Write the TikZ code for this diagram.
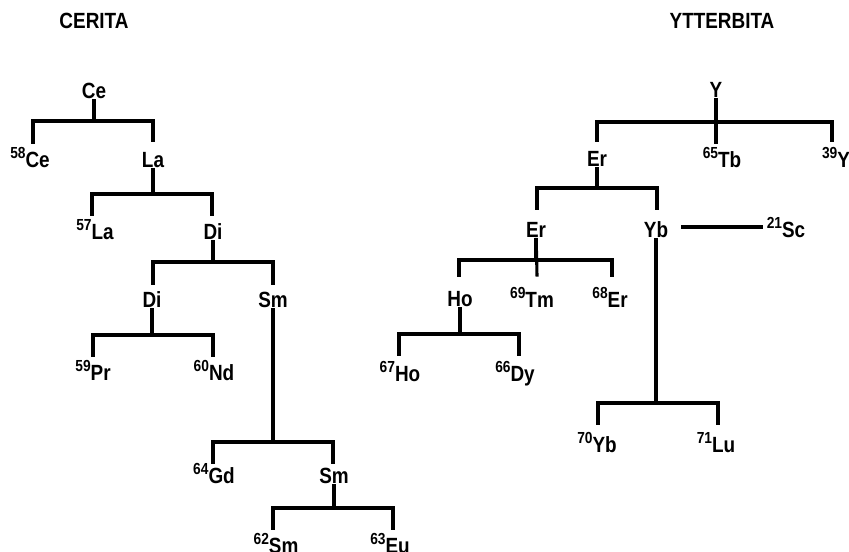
\documentclass[tikz,border=0pt]{standalone}
\usepackage{fontspec}
\setmainfont{Liberation Sans}[FakeStretch=0.86]
\usepackage{tikz}
\usetikzlibrary{positioning}
\tikzset{
  el/.style={font=\bfseries\fontsize{16.5}{19}\selectfont, inner sep=1pt, text height=11.8pt, text depth=0pt, align=center},
  ttl/.style={el, font=\bfseries\fontsize{16.5}{19}\selectfont},
  tl/.style={line width=2.3pt, draw=black, line cap=rect},
}
\newcommand{\iso}[2]{\raisebox{7pt}[0pt][0pt]{\fontsize{12}{12}\selectfont #1}#2}
% parent, bar y, left end, right end
\newcommand{\fork}[4]{\draw[tl] (#1) -- (#1 |- 0,#2);
  \draw[tl] (#3) |- (#4 |- 0,#2) -- (#4);}

\begin{document}
\begin{tikzpicture}[x=0.75pt,y=-0.75pt]
  \useasboundingbox[fill=white] (0,0) rectangle (849,552);
  \node[ttl] (cerita) at (94,21) {CERITA};
  \node[ttl] (ytterbita) at (722,21) {YTTERBITA};
  % cerita
  \node[el] (ce) at (94,91) {Ce};
  \node[el] (ce58) at (30,160) {\iso{58}{Ce}};
  \node[el] (la) at (153,160) {La};
  \node[el] (la57) at (95,232) {\iso{57}{La}};
  \node[el] (di1) at (213,232) {Di};
  \node[el] (di2) at (152,300) {Di};
  \node[el] (sm1) at (273,300) {Sm};
  \node[el] (pr59) at (93,373) {\iso{59}{Pr}};
  \node[el] (nd60) at (214,373) {\iso{60}{Nd}};
  \node[el] (gd64) at (214,476) {\iso{64}{Gd}};
  \node[el] (sm2) at (334,476) {Sm};
  \node[el] (sm62) at (276,546) {\iso{62}{Sm}};
  \node[el] (eu63) at (390,546) {\iso{63}{Eu}};
  \coordinate (ce58t) at (33,142);
  \coordinate (lat) at (153,140);
  \coordinate (la57t) at (92,214);
  \coordinate (di1t) at (212,214);
  \coordinate (di2t) at (153,283);
  \coordinate (sm1t) at (273,283);
  \coordinate (pr59t) at (93,355);
  \coordinate (nd60t) at (213,355);
  \coordinate (gd64t) at (213,462);
  \coordinate (sm2t) at (333,462);
  \coordinate (sm62t) at (273,528);
  \coordinate (eu63t) at (393,528);
  \fork{ce}{121}{ce58t}{lat}
  \fork{la}{194}{la57t}{di1t}
  \fork{di1}{262}{di2t}{sm1t}
  \fork{di2}{335}{pr59t}{nd60t}
  \fork{sm1}{442}{gd64t}{sm2t}
  \fork{sm2}{508}{sm62t}{eu63t}
  % ytterbita
  \node[el] (y) at (716,90) {Y};
  \node[el] (er1) at (597,159) {Er};
  \node[el] (tb65) at (722,160) {\iso{65}{Tb}};
  \node[el] (y39) at (836,160) {\iso{39}{Y}};
  \node[el] (er2) at (536,230) {Er};
  \node[el] (yb) at (656,230) {Yb};
  \node[el] (sc21) at (786,230) {\iso{21}{Sc}};
  \node[el] (ho) at (460,299) {Ho};
  \node[el] (tm69) at (532,300) {\iso{69}{Tm}};
  \node[el] (er68) at (610,300) {\iso{68}{Er}};
  \node[el] (ho67) at (400,374) {\iso{67}{Ho}};
  \node[el] (dy66) at (515,374) {\iso{66}{Dy}};
  \node[el] (yb70) at (597,445) {\iso{70}{Yb}};
  \node[el] (lu71) at (716,445) {\iso{71}{Lu}};
  \coordinate (er1t) at (597,140);
  \coordinate (tb65t) at (716,142);
  \coordinate (y39t) at (832,140);
  \coordinate (er2t) at (537,208);
  \coordinate (ybt) at (657,208);
  \coordinate (ho_t) at (459,275);
  \coordinate (tm69t) at (537,275);
  \coordinate (er68t) at (612,275);
  \coordinate (ho67t) at (399,354);
  \coordinate (dy66t) at (519,354);
  \coordinate (yb70t) at (598,423);
  \coordinate (lu71t) at (718,423);
  \fork{y}{122}{er1t}{y39t}
  \draw[tl] (y) -- (tb65t);
  \fork{er1}{188}{er2t}{ybt}
  \fork{er2}{260}{ho_t}{er68t}
  \draw[tl] (er2) -- (tm69t);
  \fork{ho}{334}{ho67t}{dy66t}
  \fork{yb}{403}{yb70t}{lu71t}
  \draw[tl, shorten <=10pt, shorten >=3pt] (yb.east |- 0,227) -- (sc21.west |- 0,227);
\end{tikzpicture}
\end{document}
